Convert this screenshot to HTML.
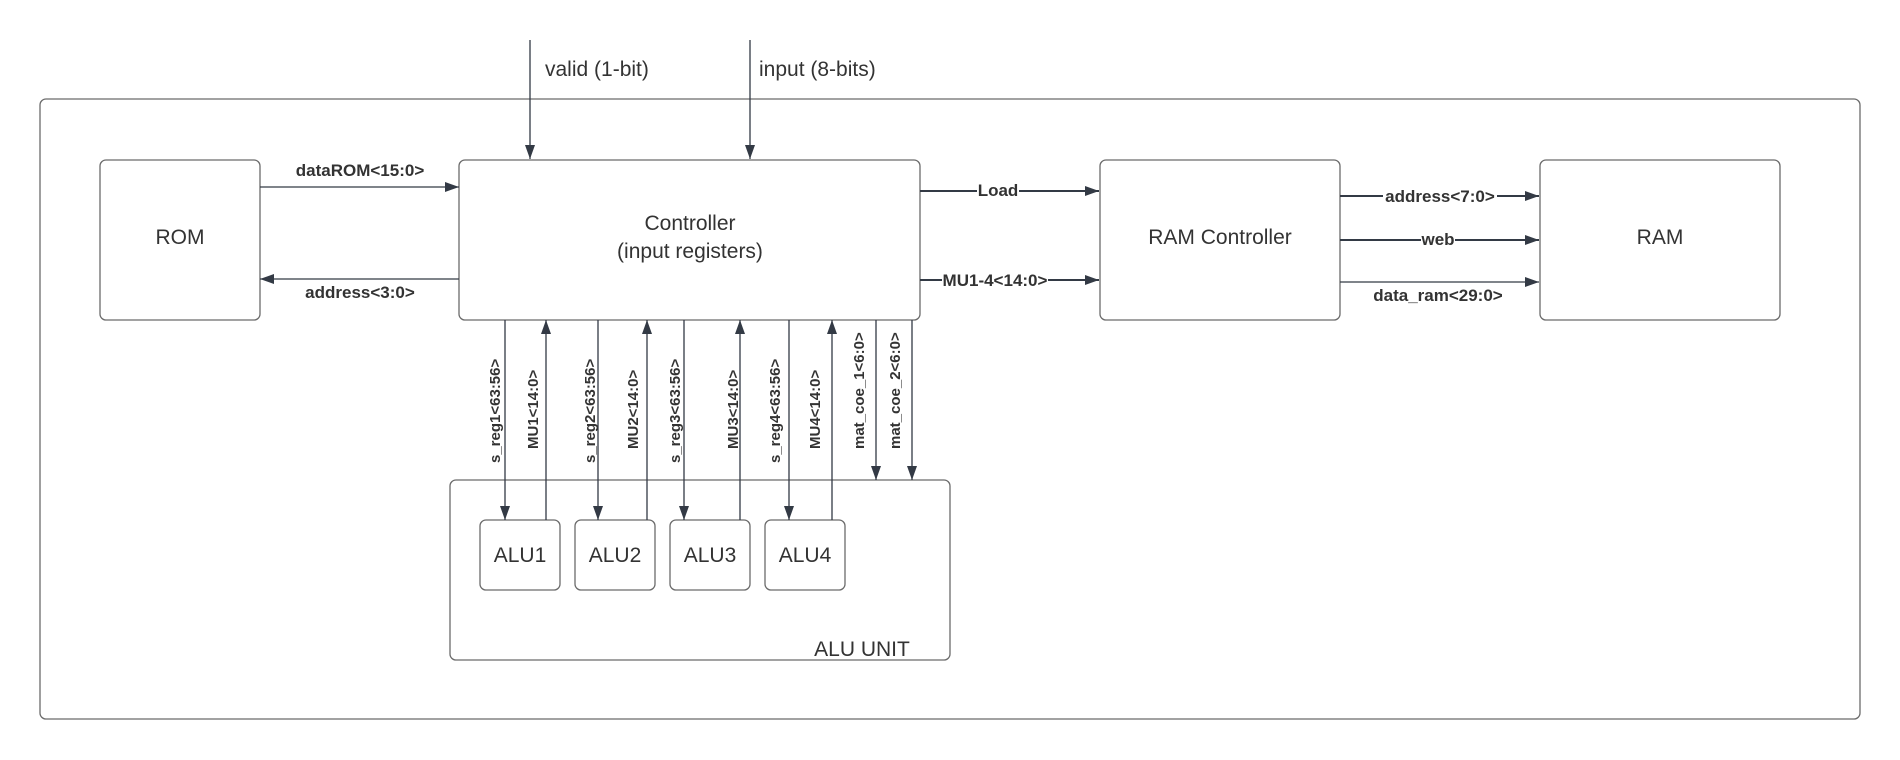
<!DOCTYPE html>
<html><head><meta charset="utf-8"><style>
html,body{margin:0;padding:0;background:#fff;}
svg{display:block;}
text{font-family:"Liberation Sans",Arial,sans-serif;fill:#333;}
.b{font-weight:bold;font-size:17px;}
.v{font-weight:bold;font-size:15px;}
.n{font-size:20px;}
.m{font-size:21px;}
</style></head><body>
<svg width="1900" height="760" viewBox="0 0 1900 760" xmlns="http://www.w3.org/2000/svg">
<defs>
<marker id="a" markerWidth="14" markerHeight="10" refX="14" refY="5" orient="auto" markerUnits="userSpaceOnUse">
<path d="M0,0 L14,5 L0,10 Z" fill="#333a45"/></marker>
</defs>
<g fill="none" stroke="#6b6b6b" stroke-width="1.3">
<rect x="40" y="99" width="1820" height="620" rx="6"/>
<rect x="100" y="160" width="160" height="160" rx="6"/>
<rect x="459" y="160" width="461" height="160" rx="6"/>
<rect x="1100" y="160" width="240" height="160" rx="6"/>
<rect x="1540" y="160" width="240" height="160" rx="6"/>
<rect x="450" y="480" width="500" height="180" rx="6"/>
<rect x="480" y="520" width="80" height="70" rx="6"/>
<rect x="575" y="520" width="80" height="70" rx="6"/>
<rect x="670" y="520" width="80" height="70" rx="6"/>
<rect x="765" y="520" width="80" height="70" rx="6"/>
</g>
<g stroke="#333a45" stroke-width="1.3" fill="none" marker-end="url(#a)">
<line x1="530" y1="40" x2="530" y2="159"/>
<line x1="750" y1="40" x2="750" y2="159"/>
<line x1="260" y1="187" x2="459" y2="187"/>
<line x1="459" y1="279" x2="260" y2="279"/>
<line x1="920" y1="191" x2="1099" y2="191" stroke-width="2"/>
<line x1="920" y1="280" x2="1099" y2="280" stroke-width="2"/>
<line x1="1340" y1="196" x2="1539" y2="196" stroke-width="2"/>
<line x1="1340" y1="240" x2="1539" y2="240" stroke-width="2"/>
<line x1="1340" y1="282" x2="1539" y2="282"/>
<line x1="505" y1="320" x2="505" y2="520"/>
<line x1="546" y1="520" x2="546" y2="320"/>
<line x1="598" y1="320" x2="598" y2="520"/>
<line x1="647" y1="520" x2="647" y2="320"/>
<line x1="684" y1="320" x2="684" y2="520"/>
<line x1="740" y1="520" x2="740" y2="320"/>
<line x1="789" y1="320" x2="789" y2="520"/>
<line x1="832" y1="520" x2="832" y2="320"/>
<line x1="876" y1="320" x2="876" y2="480"/>
<line x1="912" y1="320" x2="912" y2="480"/>
</g>
<text x="545" y="76" font-size="21">valid (1-bit)</text>
<text x="759" y="76" font-size="21">input (8-bits)</text>
<text x="180" y="244" class="m" text-anchor="middle">ROM</text>
<text x="690" y="230" class="m" text-anchor="middle">Controller</text>
<text x="690" y="258" class="m" text-anchor="middle">(input registers)</text>
<text x="1220" y="244" class="m" text-anchor="middle">RAM Controller</text>
<text x="1660" y="244" class="m" text-anchor="middle">RAM</text>
<text x="520" y="562" class="m" text-anchor="middle">ALU1</text>
<text x="615" y="562" class="m" text-anchor="middle">ALU2</text>
<text x="710" y="562" class="m" text-anchor="middle">ALU3</text>
<text x="805" y="562" class="m" text-anchor="middle">ALU4</text>
<text x="862" y="656" class="m" text-anchor="middle">ALU UNIT</text>
<text x="360" y="176" class="b" text-anchor="middle">dataROM&lt;15:0&gt;</text>
<text x="360" y="298" class="b" text-anchor="middle">address&lt;3:0&gt;</text>
<g class="b" text-anchor="middle">
<rect x="977" y="180" width="42" height="20" fill="#fff"/>
<text x="998" y="196">Load</text>
<rect x="942" y="269" width="106" height="20" fill="#fff"/>
<text x="995" y="286">MU1-4&lt;14:0&gt;</text>
<rect x="1383" y="186" width="114" height="20" fill="#fff"/>
<text x="1440" y="202">address&lt;7:0&gt;</text>
<rect x="1421" y="230" width="34" height="20" fill="#fff"/>
<text x="1438" y="245">web</text>
<text x="1438" y="301">data_ram&lt;29:0&gt;</text>
</g>
<g class="v">
<text transform="translate(500,463) rotate(-90)">s_reg1&lt;63:56&gt;</text>
<text transform="translate(538,449) rotate(-90)">MU1&lt;14:0&gt;</text>
<text transform="translate(595,463) rotate(-90)">s_reg2&lt;63:56&gt;</text>
<text transform="translate(638,449) rotate(-90)">MU2&lt;14:0&gt;</text>
<text transform="translate(680,463) rotate(-90)">s_reg3&lt;63:56&gt;</text>
<text transform="translate(738,449) rotate(-90)">MU3&lt;14:0&gt;</text>
<text transform="translate(780,463) rotate(-90)">s_reg4&lt;63:56&gt;</text>
<text transform="translate(820,449) rotate(-90)">MU4&lt;14:0&gt;</text>
<text transform="translate(864,449) rotate(-90)">mat_coe_1&lt;6:0&gt;</text>
<text transform="translate(900,449) rotate(-90)">mat_coe_2&lt;6:0&gt;</text>
</g>
</svg>
</body></html>
